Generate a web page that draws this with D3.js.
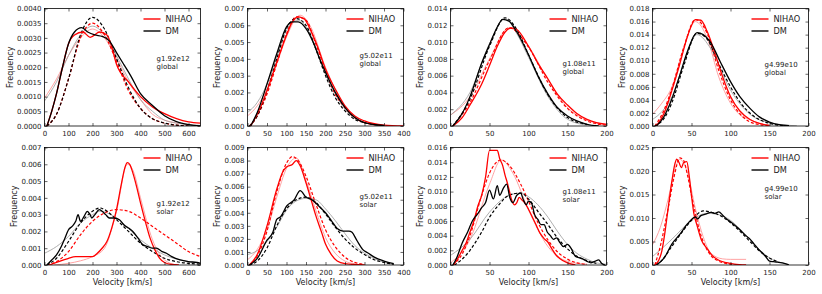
<!DOCTYPE html>
<html>
<head>
<meta charset="utf-8">
<script src="https://cdn.jsdelivr.net/npm/d3@7"></script>
<style>
body { margin: 0; background: #fff; }
text { font-family: "DejaVu Sans", sans-serif; fill: #222; }
</style>
</head>
<body>
<div id="chart"></div>
<script>
// panels: 0-3 global, 4-7 solar (same halo order per row)
const haloNames = ["g1.92e12", "g5.02e11", "g1.08e11", "g4.99e10"];
const regionNames = ["global", "solar"];
const legendLabels = ["NIHAO", "DM"];
const xMax = [650, 400, 200, 200];
const xStep = [100, 50, 50, 50];
const yMax = [0.004, 0.007, 0.014, 0.018, 0.007, 0.009, 0.016, 0.025];
const yStep = [0.0005, 0.001, 0.002, 0.002, 0.001, 0.001, 0.002, 0.005];
const yDigits = [4, 3, 3, 3, 3, 3, 3, 3];

// solid: measured distributions
const nihaoHist = [
	[[10,0],[30,0.0005],[50,0.0011],[75,0.002],[100,0.0028],[125,0.0031],[160,0.0032],[190,0.00302],[230,0.0032],[260,0.0031],[280,0.0027],[300,0.0021],[350,0.0015],[400,0.001],[450,0.00065],[500,0.00042],[550,0.00025],[600,0.00014],[650,0.0001]],
	[[8,0],[25,0.0007],[50,0.0021],[75,0.0038],[100,0.0054],[115,0.0062],[130,0.0065],[145,0.0064],[160,0.0058],[180,0.0047],[200,0.0034],[225,0.0022],[250,0.0012],[275,0.0006],[300,0.0003],[350,0.00005],[400,0]],
	[[3,0],[15,0.001],[25,0.0025],[40,0.005],[50,0.0072],[60,0.0095],[70,0.0112],[78,0.0117],[85,0.0115],[100,0.0095],[112,0.0075],[125,0.0056],[137,0.0038],[150,0.0025],[162,0.0015],[175,0.0008],[187,0.0004],[200,0.0002]],
	[[5,0],[15,0.002],[25,0.0055],[35,0.0095],[45,0.0138],[55,0.0163],[62,0.0162],[70,0.0145],[80,0.0112],[90,0.0075],[100,0.0045],[112,0.0023],[125,0.001],[137,0.0004],[150,0.0001]],
	[[20,0],[50,0.00015],[80,0.0003],[100,0.0004],[130,0.0005],[160,0.0005],[200,0.0005],[220,0.0007],[240,0.001],[260,0.0014],[280,0.0022],[300,0.0033],[320,0.0048],[335,0.0058],[345,0.0061],[355,0.006],[370,0.0054],[385,0.0046],[400,0.0037],[420,0.0026],[440,0.0016],[460,0.0009],[480,0.0004],[500,0.00015],[530,0.00003],[560,0]],
	[[5,0],[25,0.0008],[50,0.003],[75,0.0058],[90,0.0071],[100,0.0075],[115,0.0077],[125,0.008],[135,0.0076],[150,0.0063],[165,0.0048],[175,0.0038],[190,0.0025],[200,0.0016],[215,0.0008],[230,0.0003],[250,0.0001],[300,0]],
	[[4,0],[10,0.001],[15,0.002],[20,0.003],[25,0.0045],[30,0.006],[35,0.008],[40,0.0095],[45,0.012],[50,0.0156],[55,0.0156],[60,0.0156],[63,0.0145],[67,0.0135],[70,0.0122],[72,0.0115],[75,0.0103],[78,0.009],[82,0.0082],[85,0.0085],[88,0.0092],[92,0.0088],[95,0.0085],[100,0.0076],[105,0.0065],[110,0.0054],[115,0.0043],[120,0.0036],[125,0.0031],[130,0.0022],[135,0.0014],[140,0.0009],[150,0.0003],[160,0]],
	[[3,0],[8,0.001],[12,0.003],[16,0.007],[20,0.012],[25,0.018],[28,0.021],[31,0.0225],[34,0.0218],[37,0.0207],[40,0.0218],[44,0.022],[47,0.019],[50,0.0147],[53,0.011],[57,0.0085],[63,0.0052],[70,0.0035],[76,0.0021],[85,0.001],[95,0.0005],[105,0.0002],[120,0]]
];
const dmHist = [
	[[10,0],[30,0.0005],[50,0.0011],[75,0.002],[100,0.0028],[125,0.0032],[155,0.00335],[180,0.0032],[210,0.0031],[240,0.00305],[270,0.0029],[300,0.0025],[330,0.0021],[360,0.0017],[400,0.0011],[450,0.0007],[500,0.00035],[550,0.00015],[600,0.00005],[650,0]],
	[[8,0],[25,0.0008],[50,0.0025],[75,0.0043],[100,0.0059],[115,0.0062],[130,0.0062],[150,0.0058],[170,0.0049],[185,0.004],[200,0.0032],[225,0.002],[250,0.0011],[275,0.0005],[300,0.0002],[350,0.00003]],
	[[3,0],[15,0.0015],[25,0.0035],[40,0.0075],[50,0.0097],[60,0.0118],[67,0.0127],[75,0.0125],[85,0.0112],[100,0.0085],[112,0.006],[125,0.0038],[137,0.0022],[150,0.0012],[162,0.0006],[175,0.0002],[190,0]],
	[[5,0],[15,0.0015],[25,0.0042],[35,0.0078],[45,0.0115],[57,0.0143],[65,0.014],[75,0.0127],[87,0.0098],[100,0.0068],[112,0.0045],[125,0.0027],[137,0.0014],[150,0.0006],[162,0.0002],[175,0.00005]],
	[[10,0],[30,0.0003],[50,0.0006],[70,0.0011],[85,0.0016],[100,0.0021],[115,0.0023],[130,0.0026],[140,0.003],[150,0.0026],[165,0.0029],[178,0.0032],[190,0.003],[197,0.0028],[210,0.003],[228,0.0033],[240,0.0032],[255,0.003],[270,0.0028],[290,0.0028],[312,0.0027],[330,0.0024],[350,0.0022],[368,0.002],[390,0.0016],[410,0.0012],[430,0.0011],[450,0.001],[466,0.001],[490,0.0008],[508,0.0007],[530,0.0005],[565,0.0003],[600,0.0002],[635,0.00015],[650,0.0001]],
	[[5,0],[25,0.0005],[50,0.0019],[65,0.0025],[75,0.0035],[85,0.0037],[100,0.0045],[120,0.005],[135,0.0057],[150,0.0052],[165,0.005],[180,0.0046],[200,0.004],[215,0.0034],[230,0.0028],[245,0.0026],[260,0.0026],[268,0.0025],[280,0.0019],[295,0.0012],[310,0.0009],[325,0.0006],[350,0.0003],[375,0.0001]],
	[[3,0],[8,0.001],[15,0.003],[22,0.0045],[28,0.006],[35,0.007],[40,0.0078],[45,0.0085],[50,0.0102],[55,0.009],[60,0.0108],[63,0.0095],[68,0.0105],[72,0.011],[76,0.0092],[80,0.0085],[85,0.0095],[90,0.0098],[93,0.009],[97,0.0082],[100,0.0087],[104,0.0084],[108,0.0068],[112,0.0062],[116,0.0055],[120,0.0055],[124,0.0045],[128,0.004],[132,0.0035],[136,0.0037],[140,0.0031],[145,0.0025],[150,0.0028],[155,0.0022],[160,0.0012],[165,0.001],[170,0.0008],[175,0.0005],[180,0.0003],[185,0.0005],[190,0.0007],[194,0.0002],[198,0]],
	[[5,0],[15,0.0015],[25,0.0045],[35,0.0065],[45,0.0088],[55,0.0102],[58,0.0098],[62,0.0105],[68,0.0108],[75,0.0112],[80,0.011],[85,0.0113],[90,0.0106],[95,0.0098],[100,0.0092],[110,0.0078],[115,0.007],[120,0.0062],[125,0.0055],[130,0.0045],[135,0.0035],[140,0.0027],[145,0.0018],[150,0.0008],[155,0.0007],[160,0.0006],[170,0.0003],[175,0]]
];
// dashed: first fit
const nihaoFit = [
	[[10,0],[50,0.0004],[100,0.0016],[150,0.003],[200,0.0035],[250,0.0031],[300,0.0022],[350,0.0012],[400,0.0006],[450,0.00025],[500,0.0001],[550,0.00003],[600,0]],
	[[5,0],[25,0.0006],[50,0.0019],[75,0.0037],[100,0.0055],[125,0.0065],[150,0.0063],[175,0.0049],[200,0.0033],[225,0.0019],[250,0.0011],[275,0.0005],[300,0.0002],[350,0.00002]],
	[[3,0],[25,0.0028],[50,0.0078],[75,0.0117],[100,0.0094],[125,0.0052],[150,0.0021],[175,0.0006],[200,0.0001]],
	[[3,0],[15,0.0025],[25,0.0058],[40,0.012],[55,0.0163],[70,0.0142],[85,0.0085],[100,0.004],[115,0.0015],[130,0.0004],[150,0.00005]],
	[[10,0],[50,0.0002],[100,0.0008],[150,0.0018],[200,0.0026],[250,0.0031],[300,0.0033],[350,0.0032],[400,0.0028],[450,0.0023],[500,0.0018],[550,0.0013],[600,0.0008],[650,0.0005]],
	[[5,0],[25,0.0007],[50,0.0026],[75,0.0056],[100,0.0078],[115,0.0083],[130,0.008],[150,0.0068],[175,0.0047],[200,0.0027],[225,0.0014],[250,0.0006],[275,0.0002],[300,0.00005]],
	[[3,0],[15,0.0015],[25,0.004],[40,0.0095],[50,0.0125],[65,0.0143],[75,0.0136],[90,0.011],[100,0.0087],[112,0.0058],[125,0.0034],[137,0.0018],[150,0.0008],[162,0.0003],[175,0.0001]],
	[[3,0],[10,0.004],[20,0.012],[28,0.019],[35,0.0228],[40,0.0222],[45,0.019],[50,0.0148],[55,0.011],[60,0.0075],[67,0.0042],[75,0.002],[85,0.0008],[95,0.0003],[105,0.0001]]
];
const dmFit = [
	[[10,0],[50,0.0004],[100,0.0016],[150,0.0031],[200,0.0037],[250,0.0033],[300,0.0023],[350,0.0013],[400,0.0006],[450,0.00025],[500,0.0001],[550,0.00003],[600,0]],
	[[5,0],[25,0.0006],[50,0.0021],[75,0.004],[100,0.0058],[125,0.0064],[150,0.006],[175,0.0046],[200,0.003],[225,0.0017],[250,0.0009],[275,0.0004],[300,0.0002],[350,0.00002]],
	[[3,0],[25,0.0032],[50,0.0095],[70,0.0129],[85,0.0115],[100,0.0085],[125,0.0037],[150,0.001],[175,0.0002]],
	[[3,0],[15,0.0012],[25,0.0036],[40,0.0092],[57,0.0142],[70,0.0133],[85,0.0095],[100,0.006],[115,0.0032],[130,0.0015],[150,0.0004],[170,0.00005]],
	[[10,0],[50,0.0004],[100,0.0014],[150,0.0025],[200,0.0032],[230,0.0034],[250,0.0033],[300,0.0027],[350,0.002],[400,0.0013],[450,0.0008],[500,0.0004],[550,0.0002],[600,0.0001],[650,0.00005]],
	[[5,0],[25,0.0003],[50,0.0013],[75,0.003],[100,0.0043],[125,0.005],[150,0.0052],[175,0.0048],[200,0.0039],[225,0.0029],[250,0.002],[275,0.0013],[300,0.0008],[325,0.0004],[350,0.0002],[375,0.00005]],
	[[5,0],[15,0.0008],[25,0.002],[40,0.0045],[50,0.0065],[62,0.0082],[75,0.0095],[90,0.0098],[100,0.009],[112,0.0073],[125,0.0055],[137,0.0037],[150,0.0022],[162,0.0012],[175,0.0006],[187,0.0002]],
	[[5,0],[12,0.001],[25,0.004],[37,0.0068],[50,0.0095],[65,0.0115],[80,0.011],[90,0.0102],[100,0.009],[112,0.0072],[125,0.005],[137,0.003],[150,0.0015],[160,0.0007]]
];
// thin: second fit
const nihaoAlt = [
	[[0,0.00095],[50,0.0016],[100,0.0024],[150,0.003],[200,0.0033],[250,0.003],[300,0.0023],[350,0.0015],[400,0.0009],[450,0.0004],[500,0.0002],[550,0.0001],[600,0.00005]],
	[[0,0.0006],[25,0.0012],[50,0.0022],[75,0.0037],[100,0.0053],[135,0.0066],[160,0.006],[200,0.0035],[250,0.0011],[300,0.0002],[350,0]],
	[[0,0.0013],[25,0.0035],[50,0.008],[75,0.0117],[100,0.0095],[125,0.0055],[150,0.0022],[175,0.0007],[200,0.0002]],
	[[0,0.0018],[12,0.0035],[25,0.006],[40,0.012],[55,0.016],[70,0.0135],[85,0.0075],[100,0.0035],[112,0.0017],[125,0.001],[137,0.0004],[150,0.0001]],
	[[40,0],[100,0.0001],[150,0.00025],[200,0.0005],[250,0.001],[300,0.0032],[345,0.006],[370,0.0056],[400,0.004],[450,0.0015],[500,0.0003],[550,0]],
	[[0,0.0004],[25,0.0012],[50,0.0027],[75,0.0052],[100,0.0074],[125,0.0082],[150,0.0065],[175,0.0042],[200,0.0021],[225,0.0009],[250,0.0003],[275,0.0001]],
	[[0,0.0003],[25,0.0035],[50,0.011],[65,0.0143],[80,0.0125],[100,0.0075],[125,0.0025],[150,0.0005],[175,0.0001]],
	[[0,0.0043],[10,0.008],[20,0.014],[30,0.021],[35,0.0225],[45,0.0195],[55,0.012],[65,0.006],[75,0.0025],[90,0.0013],[100,0.0012],[120,0.0012]]
];
const dmAlt = [
	[[0,0.00085],[50,0.0015],[100,0.0024],[150,0.0031],[200,0.0034],[250,0.0031],[300,0.0024],[350,0.0016],[400,0.0009],[450,0.0005],[500,0.0002],[550,0.0001],[600,0.00005],[650,0.00002]],
	[[0,0.0008],[25,0.0014],[50,0.0025],[75,0.0041],[100,0.0057],[130,0.0063],[160,0.0055],[200,0.0031],[250,0.001],[300,0.0002],[350,0.00002]],
	[[0,0.0013],[25,0.004],[50,0.0098],[70,0.0128],[85,0.011],[100,0.0082],[125,0.0035],[150,0.0008],[175,0.0001]],
	[[0,0.001],[12,0.0022],[25,0.0045],[40,0.0095],[57,0.014],[75,0.0118],[100,0.0055],[125,0.0018],[150,0.0005],[185,0.00003]],
	[[0,0.0007],[50,0.0011],[100,0.0017],[150,0.0025],[200,0.003],[230,0.0032],[300,0.0028],[400,0.0015],[500,0.0006],[600,0.0002],[650,0.0001]],
	[[0,0.0008],[25,0.0011],[50,0.0018],[75,0.0029],[100,0.0042],[125,0.0049],[150,0.0051],[175,0.005],[200,0.0043],[225,0.0034],[250,0.0024],[275,0.0015],[300,0.0009],[325,0.0005],[350,0.0002],[375,0.00005]],
	[[0,0.0013],[25,0.0035],[50,0.0072],[75,0.0095],[90,0.0098],[100,0.0093],[112,0.0082],[125,0.0065],[137,0.0046],[150,0.0028],[162,0.0016],[175,0.0008],[187,0.0003],[200,0.0001]],
	[[0,0.0018],[12,0.0035],[25,0.0055],[50,0.0095],[70,0.011],[85,0.0107],[100,0.0095],[112,0.0077],[125,0.0055],[137,0.0033],[150,0.0015],[165,0.0005],[175,0.0001]]
];

// layout
const width = 822, height = 294;
const colLeft = [44.5, 247.5, 450.5, 652.5];
const plotW = 156, plotH = 117.5;
const rowTop = [8.5, 147.5];
const noteDy = [50.8, 47.5, 55.8, 56.8, 56.8, 49.2, 44.2, 41.5];

const svg = d3.select("#chart").append("svg").attr("width", width).attr("height", height);

const styles = [
	{ data: nihaoAlt, stroke: "#ff8c8c", width: 0.8, dash: null },
	{ data: dmAlt, stroke: "#9a9a9a", width: 0.8, dash: null },
	{ data: nihaoFit, stroke: "#ff0000", width: 1.2, dash: "3,2" },
	{ data: dmFit, stroke: "#000", width: 1.2, dash: "3,2" },
	{ data: nihaoHist, stroke: "#ff0000", width: 1.3, dash: null },
	{ data: dmHist, stroke: "#000", width: 1.3, dash: null }
];

for (let p = 0; p < 8; p++) {
	const row = p < 4 ? 0 : 1;
	const col = p % 4;
	const x0 = colLeft[col], y0 = rowTop[row];
	const x = d3.scaleLinear().domain([0, xMax[col]]).range([0, plotW]);
	const y = d3.scaleLinear().domain([0, yMax[p]]).range([plotH, 0]);
	const g = svg.append("g").attr("transform", `translate(${x0},${y0})`);

	g.append("clipPath").attr("id", "clip" + p)
		.append("rect").attr("width", plotW).attr("height", plotH);

	const line = d3.line().x((d) => x(d[0])).y((d) => y(d[1])).curve(d3.curveMonotoneX);
	const lines = g.append("g").attr("clip-path", `url(#clip${p})`);
	styles.forEach((s) => {
		lines.append("path")
			.attr("d", line(s.data[p]))
			.attr("fill", "none")
			.attr("stroke", s.stroke)
			.attr("stroke-width", s.width)
			.attr("stroke-dasharray", s.dash)
			.attr("stroke-linejoin", "round");
	});

	const xt = d3.range(0, xMax[col] + 1e-9, xStep[col]);
	const yt = d3.range(0, yMax[p] + 1e-9, yStep[p]);
	const fmt = d3.format(`.${yDigits[p]}f`);

	// inward ticks on all four sides (classic matplotlib)
	const axB = g.append("g").attr("transform", `translate(0,${plotH})`)
		.call(d3.axisBottom(x).tickValues(xt).tickSizeInner(-3).tickSizeOuter(0).tickPadding(5).tickFormat(d3.format("d")));
	const axT = g.append("g").call(d3.axisTop(x).tickValues(xt).tickSizeInner(-3).tickSizeOuter(0).tickFormat(""));
	const axL = g.append("g").call(d3.axisLeft(y).tickValues(yt).tickSizeInner(-3).tickSizeOuter(0).tickPadding(3).tickFormat(fmt));
	const axR = g.append("g").attr("transform", `translate(${plotW},0)`)
		.call(d3.axisRight(y).tickValues(yt).tickSizeInner(-3).tickSizeOuter(0).tickFormat(""));
	[axB, axT, axL, axR].forEach((a) => {
		a.select(".domain").remove();
		a.selectAll("line").attr("stroke", "#000").attr("stroke-width", 0.6);
		a.selectAll("text").attr("font-size", 7).attr("fill", "#222");
	});

	g.append("rect").attr("width", plotW).attr("height", plotH)
		.attr("fill", "none").attr("stroke", "#000").attr("stroke-width", 0.8);

	let tw = 0;
	axL.selectAll("text").each(function () { tw = Math.max(tw, this.getComputedTextLength()); });
	g.append("text")
		.attr("transform", `translate(${-3 - tw - 7},${plotH / 2}) rotate(-90)`)
		.attr("text-anchor", "middle").attr("dominant-baseline", "central")
		.attr("font-size", 8).text("Frequency");

	if (row === 1) {
		g.append("text").attr("x", plotW / 2).attr("y", plotH + 19.8)
			.attr("text-anchor", "middle").attr("font-size", 8).text("Velocity [km/s]");
	}

	// legend
	legendLabels.forEach((lab, i) => {
		const ly = 10.5 + i * 12;
		g.append("line").attr("x1", 99).attr("x2", 116).attr("y1", ly).attr("y2", ly)
			.attr("stroke", i === 0 ? "#ff0000" : "#000").attr("stroke-width", 1.4);
		g.append("text").attr("x", 121).attr("y", ly).attr("dominant-baseline", "central")
			.attr("font-size", 8.2).text(lab);
	});

	// halo annotation
	g.append("text").attr("x", 112).attr("y", noteDy[p]).attr("dominant-baseline", "central")
		.attr("font-size", 7).text(haloNames[col]);
	g.append("text").attr("x", 112).attr("y", noteDy[p] + 8).attr("dominant-baseline", "central")
		.attr("font-size", 7).text(regionNames[row]);
}
</script>
</body>
</html>
